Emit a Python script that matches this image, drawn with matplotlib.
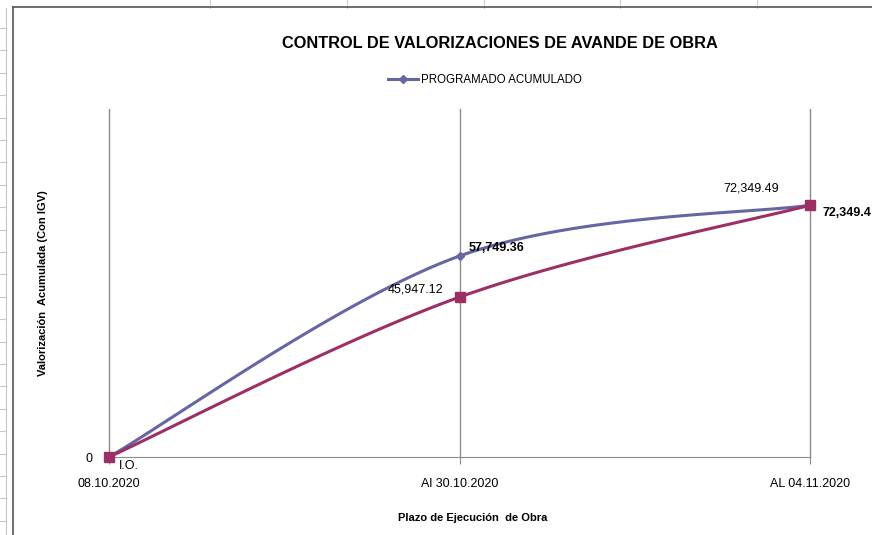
import numpy as np
import matplotlib.pyplot as plt
from matplotlib.lines import Line2D

# Data
fechas = ["08.10.2020", "Al 30.10.2020", "AL 04.11.2020"]
programado = [0, 57749.36, 72349.49]
ejecutado = [0, 45947.12, 72349.49]

# labels as shown on the chart
lbl_prog = ["", "57,749.36", "72,349.49"]
lbl_ejec = ["I.O.", "45,947.12", "72,349.4"]

AZUL = "#6666a3"
ROJO = "#9c2f66"
FONT = ["Liberation Sans", "DejaVu Sans"]

plt.rcParams["font.family"] = FONT


def suavizar(xs, ys, sx, sy, n=60):
    # excel-like smoothing: bezier with catmull-rom tangents (in screen space)
    p = np.column_stack([np.asarray(xs, float) * sx, np.asarray(ys, float) * sy])
    pts = np.vstack([p[0], p, p[-1]])
    out = []
    for i in range(1, len(pts) - 2):
        p0, p1, p2, p3 = pts[i - 1], pts[i], pts[i + 1], pts[i + 2]
        c1 = p1 + (p2 - p0) / 6
        c2 = p2 - (p3 - p1) / 6
        t = np.linspace(0, 1, n)[:, None]
        seg = ((1 - t) ** 3) * p1 + 3 * ((1 - t) ** 2) * t * c1 + 3 * (1 - t) * t ** 2 * c2 + t ** 3 * p2
        out.append(seg if i == 1 else seg[1:])
    out = np.vstack(out)
    return out[:, 0] / sx, out[:, 1] / sy


fig = plt.figure(figsize=(8.72, 5.35), dpi=100)

# spreadsheet background bits
for xx in [210, 347, 484, 620, 757]:
    fig.add_artist(Line2D([xx / 872, xx / 872], [1, 1 - 8 / 535], color="#d0d0d0", lw=0.8))
fig.add_artist(Line2D([6 / 872, 6 / 872], [0, 1 - 8 / 535], color="#c8c8c8", lw=0.8))
for yy in np.arange(28, 535, 22.4):
    fig.add_artist(Line2D([0, 6 / 872], [1 - yy / 535, 1 - yy / 535], color="#c8c8c8", lw=0.8))
fig.add_artist(Line2D([13 / 872, 13 / 872], [0, 1 - 7 / 535], color="#555555", lw=1.2))
fig.add_artist(Line2D([13 / 872, 1], [1 - 7 / 535, 1 - 7 / 535], color="#555555", lw=1.2))

ax = fig.add_axes([109 / 872, 1 - 457 / 535, (810 - 109) / 872, (457 - 109) / 535])

x = np.arange(len(fechas))
sx, sy = 350.5, 348 / 100000

xs, ys = suavizar(x, programado, sx, sy)
ax.plot(xs, ys, color=AZUL, lw=2.2, solid_capstyle="round", zorder=3, clip_on=False)
ax.plot(x, programado, ls="none", marker="D", ms=4, color=AZUL, zorder=4, clip_on=False)

xs, ys = suavizar(x, ejecutado, sx, sy)
ax.plot(xs, ys, color=ROJO, lw=2.2, solid_capstyle="round", zorder=5, clip_on=False)
ax.plot(x, ejecutado, ls="none", marker="s", ms=7, color=ROJO, zorder=6, clip_on=False)

ax.set_xlim(0, len(fechas) - 1)
ax.set_ylim(0, 100000)

ax.set_xticks(x)
ax.set_xticklabels(fechas, fontsize=9)
ax.tick_params(axis="x", length=5, color="#888888", pad=10)
ax.set_yticks([0])
ax.set_yticklabels(["0"], fontsize=9)
ax.tick_params(axis="y", length=0, pad=12)

ax.grid(axis="x", color="#8c8c8c", lw=1)
for gl in ax.get_xgridlines():
    gl.set_clip_on(False)
for s in ["top", "right", "left"]:
    ax.spines[s].set_visible(False)
ax.spines["bottom"].set_color("#8c8c8c")

# data labels
ax.annotate(lbl_prog[1], (x[1], programado[1]), xytext=(9, 8), textcoords="offset pixels",
            ha="left", va="center", fontsize=9, fontweight="bold")
ax.annotate(lbl_prog[2], (x[2], programado[2]), xytext=(-59, 17), textcoords="offset pixels",
            ha="center", va="center", fontsize=9)
ax.annotate(lbl_ejec[0], (x[0], ejecutado[0]), xytext=(20, -9), textcoords="offset pixels",
            ha="center", va="center", fontsize=9)
ax.annotate(lbl_ejec[1], (x[1], ejecutado[1]), xytext=(-16, 8), textcoords="offset pixels",
            ha="right", va="center", fontsize=9)
ax.annotate(lbl_ejec[2], (x[2], ejecutado[2]), xytext=(12, -8), textcoords="offset pixels",
            ha="left", va="center", fontsize=9, fontweight="bold", annotation_clip=False)

ax.set_ylabel("Valorización  Acumulada (Con IGV)", fontsize=8, fontweight="bold", labelpad=27)
ax.set_xlabel("Plazo de Ejecución  de Obra", fontsize=8, fontweight="bold", labelpad=17)
ax.xaxis.label.set_x((473 - 109) / 701)

fig.text(500 / 872, 1 - 43 / 535, "CONTROL DE VALORIZACIONES DE AVANDE DE OBRA",
         ha="center", va="center", fontsize=11.8, fontweight="bold")

leg_h = [Line2D([], [], color=AZUL, lw=2.2, marker="D", ms=4)]
fig.legend(leg_h, ["PROGRAMADO ACUMULADO"], loc="center", bbox_to_anchor=(485 / 872, 1 - 80 / 535),
           frameon=False, handlelength=2.6, handletextpad=0.3, prop={"size": 8.3})

fig.savefig("out.png", dpi=100)
